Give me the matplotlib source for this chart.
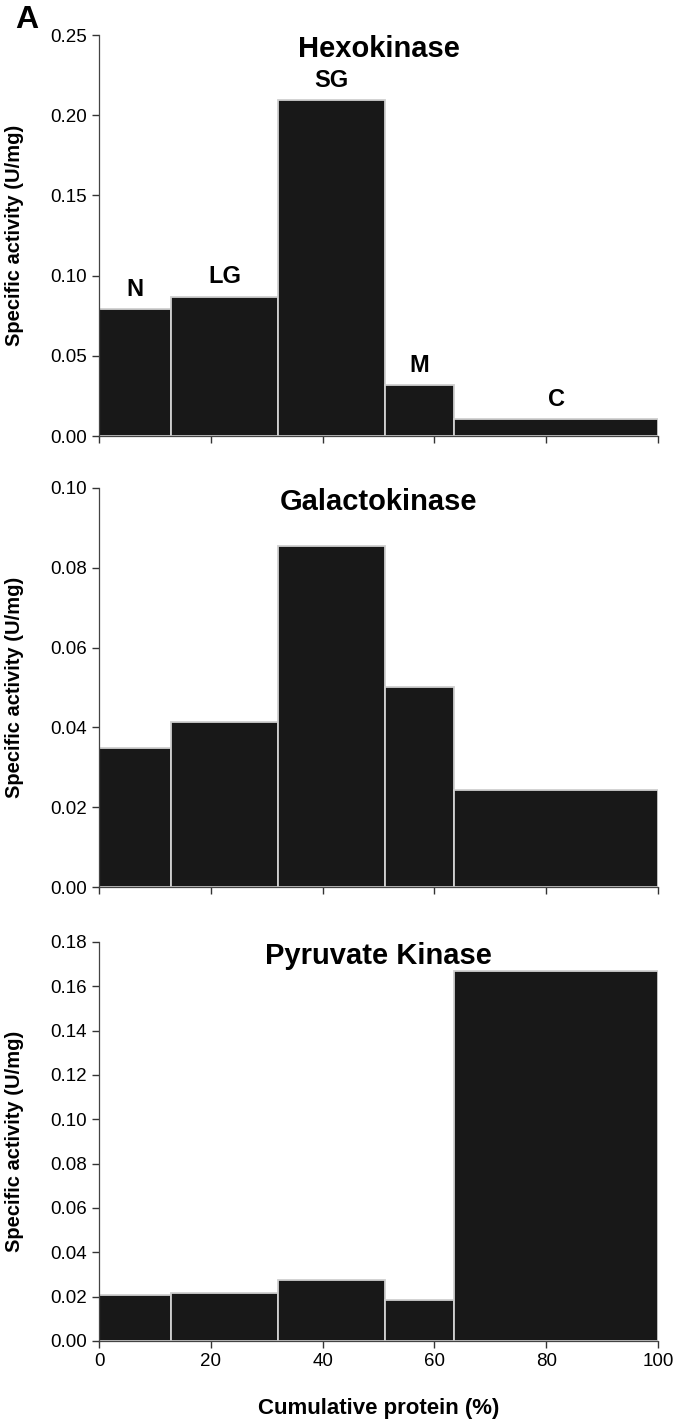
import matplotlib.pyplot as plt

plt.rcParams['font.family'] = ['Liberation Sans', 'DejaVu Sans']

# fraction boundaries along cumulative protein (%)
edges = [0, 12.9, 32.0, 51.1, 63.6, 100]
fractions = ['N', 'LG', 'SG', 'M', 'C']

hexokinase = [0.0793, 0.0870, 0.2095, 0.0316, 0.0106]
galactokinase = [0.0348, 0.0414, 0.0855, 0.0502, 0.0243]
pyruvate_kinase = [0.0206, 0.0217, 0.0277, 0.0186, 0.1667]

titles = ['Hexokinase', 'Galactokinase', 'Pyruvate Kinase']
series = [hexokinase, galactokinase, pyruvate_kinase]
ymaxes = [0.25, 0.10, 0.18]
ysteps = [0.05, 0.02, 0.02]

fig = plt.figure(figsize=(6.75, 14.19), dpi=100)
boxes = [[0.1467, 0.6927, 0.828, 0.2826],
         [0.1467, 0.3749, 0.828, 0.2812],
         [0.1467, 0.0550, 0.828, 0.2812]]

lefts = edges[:-1]
widths = [edges[i + 1] - edges[i] for i in range(len(edges) - 1)]

for i in range(3):
    ax = fig.add_axes(boxes[i])
    ax.bar(lefts, series[i], width=widths, align='edge', color='#181818',
           edgecolor='#cfcfcf', linewidth=1.3)
    ax.set_xlim(0, 100)
    ax.set_ylim(0, ymaxes[i])
    n = int(round(ymaxes[i] / ysteps[i]))
    yt = [k * ysteps[i] for k in range(n + 1)]
    ax.set_yticks(yt)
    ax.set_yticklabels(['%.2f' % v for v in yt], fontsize=13.5)
    ax.set_xticks([0, 20, 40, 60, 80, 100])
    if i == 2:
        ax.set_xticklabels(['0', '20', '40', '60', '80', '100'], fontsize=13.5)
        ax.set_xlabel('Cumulative protein (%)', fontsize=16, fontweight='bold')
        ax.xaxis.set_label_coords(0.5, -0.143)
    else:
        ax.set_xticklabels([])
    ax.set_ylabel('Specific activity (U/mg)', fontsize=14.5, fontweight='bold')
    ax.yaxis.set_label_coords(-0.135, 0.5)
    for s in ['top', 'right']:
        ax.spines[s].set_visible(False)
    for s in ['left', 'bottom']:
        ax.spines[s].set_color('#444444')
        ax.spines[s].set_linewidth(0.9)
    ax.tick_params(direction='out', length=5, color='#333333', width=1.0, pad=4)
    ax.text(0.5, 0.965, titles[i], transform=ax.transAxes, ha='center', va='center',
            fontsize=21, fontweight='bold')

    # fraction labels on the hexokinase panel
    if i == 0:
        for j in range(len(fractions)):
            ax.text(lefts[j] + widths[j] / 2, series[i][j] + 0.005, fractions[j],
                    ha='center', va='bottom', fontsize=17, fontweight='bold')

fig.text(0.022, 0.986, 'A', fontsize=23, fontweight='bold', va='center')

plt.savefig('out.png', dpi=100)
